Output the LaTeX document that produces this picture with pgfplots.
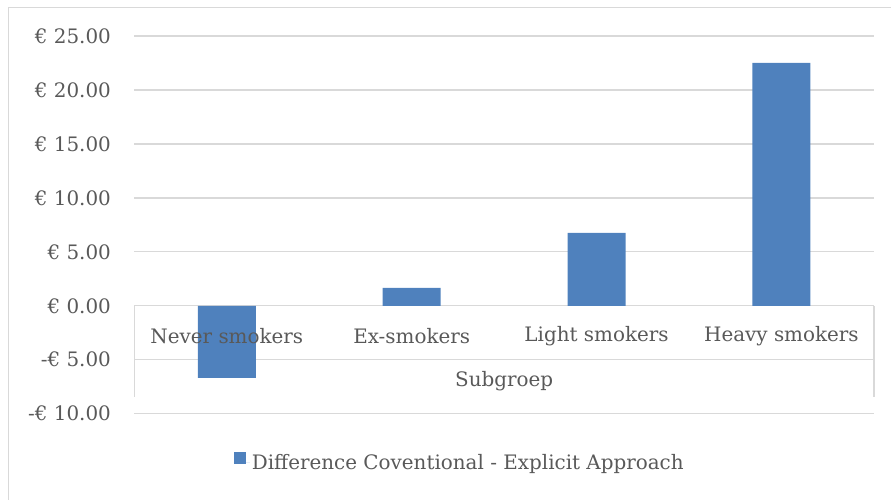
\documentclass[border=0pt]{standalone}
\usepackage{pgfplots}
\pgfplotsset{compat=1.18}
\usepackage{fontspec}
\setmainfont{DejaVu Serif}
\definecolor{barblue}{HTML}{4F81BD}
\definecolor{txt}{HTML}{595959}
\definecolor{grd}{HTML}{D9D9D9}
\pgfplotsset{layers/mylayers/.define layer set={axis background,axis grid,pre main,main,axis ticks,axis lines,axis tick labels,axis descriptions,axis foreground}{
  grid style={/pgfplots/on layer=axis grid},
  tick style={/pgfplots/on layer=axis ticks},
  axis line style={/pgfplots/on layer=axis lines},
  label style={/pgfplots/on layer=axis descriptions},
  legend style={/pgfplots/on layer=axis descriptions},
  title style={/pgfplots/on layer=axis descriptions},
  colorbar style={/pgfplots/on layer=axis descriptions},
  ticklabel style={/pgfplots/on layer=axis tick labels},
  axis background@ style={/pgfplots/on layer=axis background},
  3d box foreground style={/pgfplots/on layer=axis foreground},
}}
\begin{document}
\begin{tikzpicture}
\path (0,0) rectangle (892bp,500bp);
\begin{axis}[
  set layers=mylayers,
  at={(134.5bp,86bp)}, anchor=south west,
  scale only axis, width=740bp, height=378bp,
  xmin=-0.5, xmax=3.5, ymin=-10, ymax=25,
  clip=false,
  axis line style={draw=none},
  major tick length=0pt,
  ymajorgrids, grid style={grd, line width=1.3bp},
  ytick={-10,-5,0,5,10,15,20,25},
  yticklabels={-€ 10.00,-€ 5.00,€ 0.00,€ 5.00,€ 10.00,€ 15.00,€ 20.00,€ 25.00},
  yticklabel style={anchor=east, xshift=-20bp},
  xtick={0,1,2,3},
  xticklabels={Never smokers,Ex-smokers,Light smokers,Heavy smokers},
  xticklabel style={anchor=center, yshift=78bp},
  tick label style={font=\fontsize{20}{22}\selectfont, text=txt},
  xlabel={Subgroep},
  xlabel style={at={(axis description cs:0.5,0.0873)}, anchor=center, font=\fontsize{20}{22}\selectfont, text=txt},
  legend style={at={(0.44,-0.1296)}, anchor=center, draw=none, fill=none, font=\fontsize{20}{22}\selectfont, text=txt},
]
\addplot[ybar, bar width=58bp, fill=barblue, draw=none,
  legend image code/.code={\fill[barblue] (0bp,-1bp) rectangle (12bp,11bp); \path (0bp,0bp) -- (16bp,0bp);}]
  coordinates {(0,-6.67) (1,1.67) (2,6.76) (3,22.5)};
\addlegendentry{Difference Coventional - Explicit Approach}
\draw[grd, line width=1.3bp] (axis cs:-0.5,0) -- (axis cs:-0.5,-8.43);
\draw[grd, line width=1.3bp] (axis cs:3.5,0) -- (axis cs:3.5,-8.43);
\end{axis}
\draw[grd, line width=1.3bp] (8.5bp,0) -- (8.5bp,492.5bp) -- (892bp,492.5bp);
\end{tikzpicture}
\end{document}
